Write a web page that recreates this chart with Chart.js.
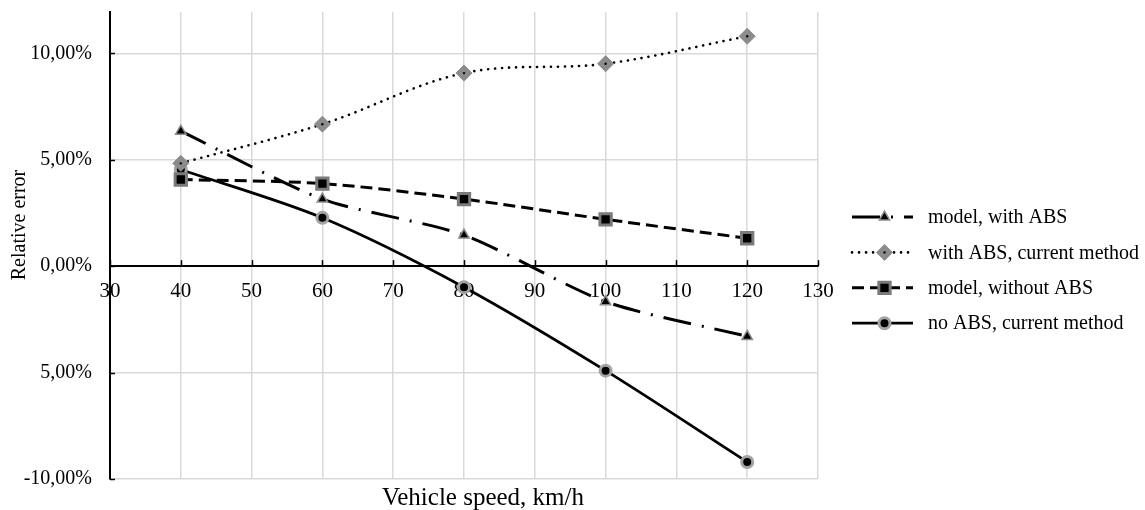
<!DOCTYPE html>
<html><head><meta charset="utf-8">
<script src="https://cdn.jsdelivr.net/npm/chart.js@4.4.1/dist/chart.umd.min.js"></script>
<style>html,body{margin:0;padding:0;background:#fff}</style>
</head><body>
<canvas id="c" width="1145" height="510"></canvas>
<script>
const speeds = [40, 60, 80, 100, 120];
const modelWithABS = [6.34, 3.15, 1.46, -1.67, -3.30];
const withABSCurrent = [4.83, 6.67, 9.07, 9.51, 10.80];
const modelWithoutABS = [4.07, 3.88, 3.15, 2.20, 1.31];
const noABSCurrent = [4.54, 2.27, -0.99, -4.91, -9.20];
const seriesNames = ["model, with ABS", "with ABS, current method", "model, without ABS", "no ABS, current method"];
const xTickValues = [30, 40, 50, 60, 70, 80, 90, 100, 110, 120, 130];
const yTickValues = [-10, -5, 0, 5, 10];
const yTickLabels = ["-10,00%", "5,00%", "0,00%", "5,00%", "10,00%"];
const xTitle = "Vehicle speed, km/h";
const yTitle = "Relative error";

const FONT = "'Liberation Serif', 'Times New Roman', serif";
const toPts = arr => speeds.map((s, i) => ({x: s, y: arr[i]}));

const datasets = [
  {label: seriesNames[0], data: toPts(modelWithABS), borderColor: '#000', borderWidth: 3,
   borderDash: [28, 11, 2, 11], tension: 0.25, pointStyle: 'triangle', pointRadius: 6,
   pointBackgroundColor: '#000', pointBorderColor: '#8c8c8c', pointBorderWidth: 1.5},
  {label: seriesNames[1], data: toPts(withABSCurrent), borderColor: '#000', borderWidth: 2.6,
   borderDash: [0.1, 6.9], borderCapStyle: 'round', tension: 0.35, pointStyle: 'rectRot', pointRadius: 8,
   pointBackgroundColor: '#8c8c8c', pointBorderColor: '#8c8c8c', pointBorderWidth: 1},
  {label: seriesNames[2], data: toPts(modelWithoutABS), borderColor: '#000', borderWidth: 3,
   borderDash: [12, 6], tension: 0.3, pointStyle: 'rect', pointRadius: 8,
   pointBackgroundColor: '#000', pointBorderColor: '#7a7a7a', pointBorderWidth: 3},
  {label: seriesNames[3], data: toPts(noABSCurrent), borderColor: '#000', borderWidth: 2.8,
   tension: 0.3, pointStyle: 'circle', pointRadius: 5.5,
   pointBackgroundColor: '#000', pointBorderColor: '#a3a3a3', pointBorderWidth: 3}
];

function drawMarker(ctx, ds, x, y) {
  ctx.save();
  ctx.fillStyle = ds.pointBackgroundColor;
  ctx.strokeStyle = ds.pointBorderColor;
  ctx.lineWidth = ds.pointBorderWidth;
  ctx.setLineDash([]);
  if (Chart.helpers && Chart.helpers.drawPoint) {
    Chart.helpers.drawPoint(ctx, {pointStyle: ds.pointStyle, radius: ds.pointRadius, rotation: 0, borderWidth: ds.pointBorderWidth}, x, y);
  }
  if (ds.pointStyle === 'rectRot') {
    ctx.fillStyle = '#000';
    ctx.beginPath(); ctx.arc(x, y, 1.2, 0, Math.PI * 2); ctx.fill();
  }
  ctx.restore();
}

const extras = {
  id: 'extras',
  afterDatasetsDraw(chart) {
    const ctx = chart.ctx;
    const meta = chart.getDatasetMeta(1);
    ctx.save();
    ctx.fillStyle = '#000';
    meta.data.forEach(p => { ctx.beginPath(); ctx.arc(p.x, p.y, 1.2, 0, Math.PI * 2); ctx.fill(); });
    ctx.restore();
  },
  afterDraw(chart) {
    const ctx = chart.ctx;
    const xs = chart.scales.x, ys = chart.scales.y;
    const area = chart.chartArea;
    ctx.save();
    ctx.strokeStyle = '#000';
    ctx.lineWidth = 1.5;
    const y0 = ys.getPixelForValue(0);
    xTickValues.forEach(v => {
      const px = Math.round(xs.getPixelForValue(v)) + 0.5;
      ctx.beginPath(); ctx.moveTo(px, y0 - 6); ctx.lineTo(px, y0); ctx.stroke();
    });
    yTickValues.forEach(v => {
      const py = Math.round(ys.getPixelForValue(v)) + 0.5;
      ctx.beginPath(); ctx.moveTo(area.left, py); ctx.lineTo(area.left + 5, py); ctx.stroke();
    });
    // axis titles
    ctx.fillStyle = '#000';
    ctx.font = "25px " + FONT;
    ctx.textAlign = 'center';
    ctx.textBaseline = 'alphabetic';
    ctx.fillText(xTitle, (area.left + area.right) / 2 + 19, area.bottom + 26);
    ctx.save();
    ctx.translate(25, area.top + 213);
    ctx.rotate(-Math.PI / 2);
    ctx.font = "20px " + FONT;
    ctx.fillText(yTitle, 0, 0);
    ctx.restore();
    // legend
    const lx0 = area.right + 34, lx1 = area.right + 95, tx = area.right + 110;
    const yStart = area.top + 205, step = 35.4;
    chart.data.datasets.forEach((ds, i) => {
      const y = yStart + i * step;
      ctx.save();
      ctx.strokeStyle = ds.borderColor;
      ctx.lineWidth = ds.borderWidth;
      ctx.lineCap = ds.borderCapStyle || 'butt';
      ctx.setLineDash(ds.borderDash || []);
      ctx.beginPath(); ctx.moveTo(lx0, y); ctx.lineTo(lx1, y); ctx.stroke();
      ctx.restore();
      drawMarker(ctx, ds, (lx0 + lx1) / 2 + 2, y);
      ctx.fillStyle = '#000';
      ctx.font = "20px " + FONT;
      ctx.textBaseline = 'middle';
      ctx.textAlign = 'left';
      ctx.fillText(ds.label, tx, y + 1);
    });
    ctx.restore();
  }
};

new Chart(document.getElementById('c'), {
  type: 'line',
  data: {datasets},
  options: {
    responsive: false,
    devicePixelRatio: 1,
    animation: false,
    layout: {padding: {left: 0, right: 327, top: 12, bottom: 31}},
    plugins: {
      legend: {display: false},
      tooltip: {enabled: false},
      title: {display: false}
    },
    scales: {
      x: {
        type: 'linear', min: 30, max: 130,
        position: {y: 0},
        afterFit: s => { s.height = 0; s.paddingLeft = 0; s.paddingRight = 0; },
        afterBuildTicks: s => { s.ticks = xTickValues.map(v => ({value: v})); },
        grid: {color: '#d9d9d9', lineWidth: 1.5, drawTicks: false},
        border: {color: '#000', width: 2},
        ticks: {color: '#000', font: {family: FONT, size: 21}, padding: 13, autoSkip: false, maxRotation: 0}
      },
      y: {
        type: 'linear', min: -10, max: 11.94,
        afterFit: s => { s.width = 110; s.paddingTop = 0; s.paddingBottom = 0; },
        afterBuildTicks: s => { s.ticks = yTickValues.map(v => ({value: v})); },
        grid: {color: '#d9d9d9', lineWidth: 1.5, drawTicks: false},
        border: {color: '#000', width: 2},
        ticks: {color: '#000', font: {family: FONT, size: 20}, padding: 18, autoSkip: false,
          callback: v => { const i = yTickValues.indexOf(v); return i >= 0 ? yTickLabels[i] : ''; }},
        title: {display: false}
      }
    }
  },
  plugins: [extras]
});
</script>
</body></html>
